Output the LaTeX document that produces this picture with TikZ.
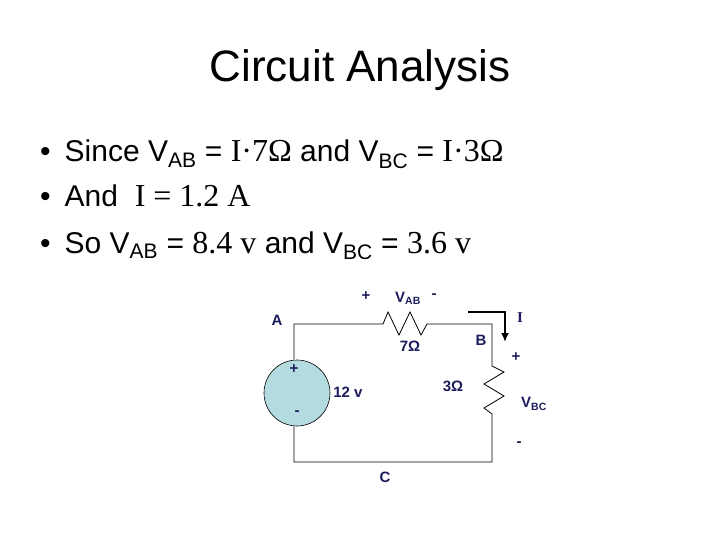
\documentclass[tikz,border=0pt]{standalone}
\usepackage{fontspec}
\usetikzlibrary{arrows.meta}
\setmainfont{Liberation Sans}
\newfontfamily\serf{Liberation Serif}
\begin{document}
\begin{tikzpicture}[x=1pt,y=-1pt,
  lab/.style={text=navy,font=\bfseries\fontsize{15}{17}\selectfont,inner sep=0},
  wire/.style={draw=black,line width=0.8pt},
  bul/.style={anchor=base west,font=\fontsize{30}{34}\selectfont,inner sep=0}]
\definecolor{navy}{HTML}{1C1C5C}
\definecolor{teal}{HTML}{B4DCE0}
\useasboundingbox (0,0) rectangle (720,540);
\node (title) at (360,70) {\fontsize{44}{50}\selectfont Circuit Analysis};
\node[bul] (b1) at (40,162) {\textbullet\hspace{14pt}Since V\textsubscript{AB} = {\serf\fontsize{32}{34}\selectfont I·7Ω} and V\textsubscript{BC} = {\serf\fontsize{32}{34}\selectfont I·3Ω}};
\node[bul] (b2) at (40,207) {\textbullet\hspace{14pt}And \ {\serf\fontsize{32}{34}\selectfont I = 1.2 A}};
\node[bul] (b3) at (40,253) {\textbullet\hspace{14pt}So V\textsubscript{AB} = {\serf\fontsize{32}{34}\selectfont 8.4 v} and V\textsubscript{BC} = {\serf\fontsize{32}{34}\selectfont 3.6 v}};
% circuit
\coordinate (tl) at (294,324);
\coordinate (tr) at (492,324);
\coordinate (br) at (492,462);
\coordinate (bl) at (294,462);
\node[circle,draw=black,fill=teal,minimum size=66pt,inner sep=0,line width=0.6pt] (src) at (297,393) {};
\draw[wire] (src.north -| tl) -- (tl) -- (383,324) -- (388,312) -- (399,335) -- (410,312) -- (421,335) -- (427,324) -- (432,324) -- (tr) -- (492,366) -- (504,372) -- (484,384) -- (504,396) -- (484,408) -- (492,414) -- (br) -- (bl) -- (src.south -| bl);
\draw[line width=2pt,-{Latex[length=9pt,width=8pt]}] (468,312) -- (505,312) -- (505,342);
\node[lab] (A) at (277,320) {A};
\node[lab] (B) at (481,340) {B};
\node[lab] (C) at (385,477) {C};
\node[lab] (I) at (520,318) {\serf I};
\node[lab] (p1) at (366,296) {+};
\node[lab] (vab) at (408,298) {V\textsubscript{AB}};
\node[lab] (m1) at (434,296) {-};
\node[lab] (r7) at (410,346) {7Ω};
\node[lab] (r3) at (453,386) {3Ω};
\node[lab] (v12) at (348,392) {12 v};
\node[lab] (p2) at (294,369) {+};
\node[lab] (m2) at (297,413) {-};
\node[lab] (p3) at (516,357) {+};
\node[lab] (vbc) at (534,404) {V\textsubscript{BC}};
\node[lab] (m3) at (519,444) {-};
\end{tikzpicture}
\end{document}
